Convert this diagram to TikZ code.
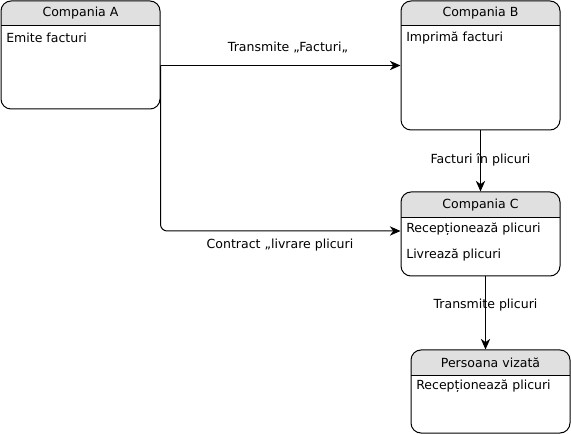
\documentclass[tikz,border=0pt]{standalone}
\usepackage{fontspec}
\setmainfont{DejaVu Sans}
\usetikzlibrary{fit,calc,arrows.meta}
\definecolor{hdrgray}{RGB}{224,224,224}
\tikzset{
  every node/.style={font=\fontsize{9.4pt}{11pt}\selectfont, inner sep=0pt},
  boxframe/.style={draw=black, line width=0.75pt, rounded corners=7.5pt, inner sep=0pt},
  title/.style={anchor=center},
  item/.style={anchor=west},
  lbl/.style={anchor=center, inner sep=1pt},
  arr/.style={draw=black, line width=0.75pt, -{Stealth[length=8pt,width=7pt,inset=2.5pt]}},
}
\newcommand{\umlbox}[6]{% name, x1, y1, x2, y2, header y
  \coordinate (#1nw) at (#2,#3);
  \coordinate (#1se) at (#4,#5);
  \fill[hdrgray, rounded corners=7.5pt] (#2,#6) -- (#2,#3) -- (#4,#3) -- (#4,#6) -- cycle;
  \fill[hdrgray] (#2,#6) rectangle (#4,{#6-10});
  \draw[line width=0.75pt] (#2,#6) -- (#4,#6);
  \node[boxframe, fit=(#1nw)(#1se)] (#1) {};
}
\begin{document}
\begin{tikzpicture}[x=0.75pt, y=-0.75pt]
\useasboundingbox (0,0) rectangle (571,434);
% boxes
\umlbox{A}{1}{1}{160}{109}{26}
\umlbox{B}{401}{1}{560}{130}{26}
\umlbox{C}{401}{192}{560}{276}{218}
\umlbox{D}{411}{350}{570}{433}{376}
% titles
\node[title] (At) at (80.5,13.5) {Compania A};
\node[title] (Bt) at (480.5,13.5) {Compania B};
\node[title] (Ct) at (480.5,205) {Compania C};
\node[title] (Dt) at (490.5,363) {Persoana vizată};
% items
\node[item] (Ai) at (6,38) {Emite facturi};
\node[item] (Bi) at (406,38) {Imprimă facturi};
\node[item] (Ci1) at (406,229) {Recepționează plicuri};
\node[item] (Ci2) at (406,255) {Livrează plicuri};
\node[item] (Di) at (416,386) {Recepționează plicuri};
% connectors
\coordinate (mid) at (485.5,0);
\draw[arr] (A.east |- B.west) -- (B.west);
\draw[arr, rounded corners=5pt] (A.east |- B.west) |- ($(C.west)+(0,-3)$);
\draw[arr] (B.south) -- (C.north);
\draw[arr] (C.south -| mid) -- (D.north -| mid);
% labels
\node[lbl] (l1) at (288,47) {Transmite „Facturi„};
\node[lbl] (l2) at (480.5,160) {Facturi în plicuri};
\node[lbl] (l3) at (280,245) {Contract „livrare plicuri};
\node[lbl] (l4) at (485.5,305) {Transmite plicuri};
\end{tikzpicture}
\end{document}
